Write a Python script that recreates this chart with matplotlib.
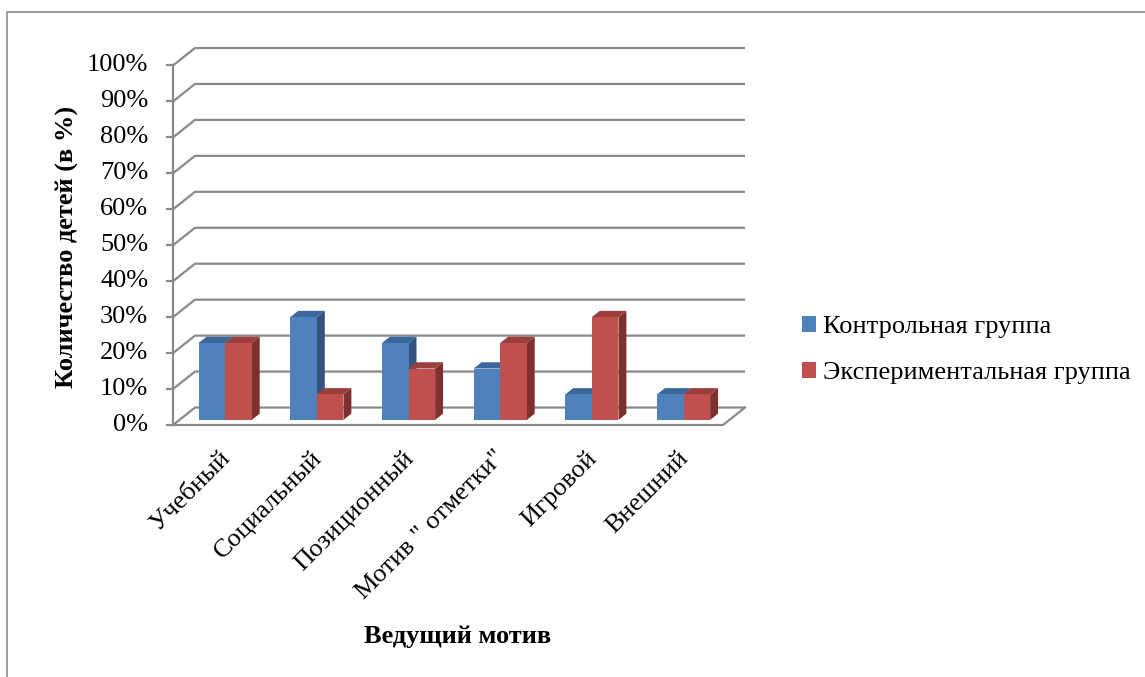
"""
3D-style grouped bar chart: leading motive, control vs experimental group
"""
import matplotlib
matplotlib.use('Agg')
import matplotlib.pyplot as plt
from matplotlib.patches import Polygon, Patch, Rectangle

# Data
categories = ['Учебный', 'Социальный', 'Позиционный', 'Мотив " отметки"', 'Игровой', 'Внешний']
control = [21.4, 28.6, 21.4, 14.3, 7.1, 7.1]
experimental = [21.4, 7.1, 14.3, 21.4, 28.6, 7.1]
series_names = ['Контрольная группа', 'Экспериментальная группа']
y_ticks = [0, 10, 20, 30, 40, 50, 60, 70, 80, 90, 100]
y_tick_labels = [f'{v}%' for v in y_ticks]

# Colours (front, top, side)
blue = ('#4F81BD', '#3C679B', '#32547F')
red = ('#C0504D', '#9C3E3B', '#7E302E')
grid_col = '#898989'

plt.rcParams['font.family'] = ['Liberation Serif', 'DejaVu Serif']
FS = 19

W, H = 1145, 677
fig = plt.figure(figsize=(W / 100, H / 100), dpi=100)

# depth of the 3D box in data units
DX = 0.24
DY = 4.86
n = len(categories)

ax = fig.add_axes([173 / W, 1 - 425 / H, (745 - 173) / W, (425 - 48) / H])
ax.set_xlim(0, n + DX)
ax.set_ylim(0, 100 + DY)
ax.axis('off')

# frame around the chart area
fig.patches.append(Rectangle((7 / W, -0.1), 1.2, 1 - 12 / H + 0.1, transform=fig.transFigure,
                             fill=False, edgecolor='#8c8c8c', lw=1.2))

# gridlines: diagonal on side wall, horizontal on back wall
for v, lab in zip(y_ticks, y_tick_labels):
    ax.plot([0, DX, n + DX], [v, v + DY, v + DY], color=grid_col, lw=1.6,
            solid_capstyle='butt', clip_on=False, zorder=1)
    ax.plot([-0.07, 0], [v, v], color=grid_col, lw=1.6, clip_on=False, zorder=1)
    ax.text(-0.27, v, lab, ha='right', va='center', fontsize=FS, clip_on=False)

# front vertical axis and floor outline
ax.plot([0, 0], [0, 100], color=grid_col, lw=1.6, clip_on=False, zorder=1)
ax.plot([0, n, n + DX], [0, 0, DY], color=grid_col, lw=1.6, clip_on=False, zorder=1)

# bars
bar_w = 0.29
front = 0.29   # fraction of depth where bar front face sits
depth = 0.36   # bar depth fraction
fx, fy = front * DX, front * DY
bx, by = depth * DX, depth * DY


def draw_bar(x0, h, cols):
    x0 = x0 + fx
    y0 = fy
    f = Polygon([(x0, y0), (x0 + bar_w, y0), (x0 + bar_w, y0 + h), (x0, y0 + h)],
                closed=True, facecolor=cols[0], edgecolor='none', zorder=3)
    t = Polygon([(x0, y0 + h), (x0 + bar_w, y0 + h), (x0 + bar_w + bx, y0 + h + by),
                 (x0 + bx, y0 + h + by)], closed=True, facecolor=cols[1], edgecolor='none', zorder=3)
    s = Polygon([(x0 + bar_w, y0), (x0 + bar_w + bx, y0 + by), (x0 + bar_w + bx, y0 + h + by),
                 (x0 + bar_w, y0 + h)], closed=True, facecolor=cols[2], edgecolor='none', zorder=3)
    for p in (s, t, f):
        ax.add_patch(p)


for i in range(n):
    center = i + 0.5
    draw_bar(center - bar_w, control[i], blue)
    draw_bar(center, experimental[i], red)
    ax.text(center + 0.0, -6.0, categories[i], rotation=45, ha='right', va='top',
            rotation_mode='anchor', fontsize=FS, clip_on=False)

# axis titles
fig.text(67 / W, 1 - 247 / H, 'Количество детей (в %)', rotation=90, ha='center', va='center',
         fontsize=FS, fontweight='bold')
fig.text(458 / W, 1 - 636 / H, 'Ведущий мотив', ha='center', va='center',
         fontsize=FS, fontweight='bold')

# legend
handles = [Patch(facecolor=blue[0]), Patch(facecolor=red[0])]
fig.legend(handles, series_names, loc='center left', bbox_to_anchor=(791 / W, 1 - 350 / H),
           frameon=False, fontsize=FS, handlelength=0.55, handleheight=0.55, handletextpad=0.25,
           labelspacing=0.9, borderaxespad=0)

fig.savefig('out.png', dpi=100)
